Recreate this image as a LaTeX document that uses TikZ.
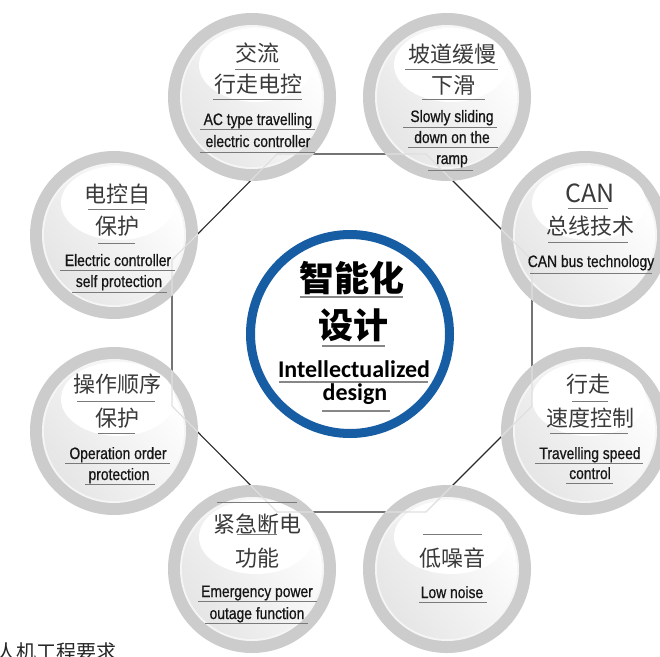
\documentclass[tikz,border=0pt]{standalone}
\usepackage{fontspec}
\usetikzlibrary{calc}
\newfontfamily\cjk{Noto Sans CJK SC}
\newfontfamily\narrow[FakeStretch=0.84,FakeBold=0.7]{Liberation Sans}
\newfontfamily\carl{Carlito}
\definecolor{txtgray}{HTML}{3A3A3A}
\definecolor{engtxt}{HTML}{161616}
\definecolor{ulgray}{HTML}{7A7A7A}
\definecolor{octdark}{HTML}{2B2B2B}
\definecolor{blueR}{HTML}{175DA3}
\tikzset{
  cn/.style={font=\cjk\fontsize{22}{22}\selectfont, text=txtgray, inner sep=0pt, anchor=base},
  cnbig/.style={font=\cjk\fontsize{25}{25}\selectfont, text=txtgray, inner sep=0pt, anchor=base},
  en/.style={font=\narrow\fontsize{16.5}{16.5}\selectfont, text=engtxt, inner sep=0pt, anchor=base},
  cnb/.style={font=\cjk\bfseries\fontsize{35}{35}\selectfont, text=black, inner sep=0pt, anchor=base},
  enb/.style={font=\carl\bfseries\fontsize{24}{24}\selectfont, text=black, inner sep=0pt, anchor=base},
  ul/.style={draw=ulgray, line width=0.9pt},
  ulc/.style={draw=ulgray!90, line width=1.2pt},
  octline/.style={draw=octdark, line width=1.1pt},
  octlight/.style={draw=gray!25, line width=1.1pt},
  bubble/.pic={
    \fill[gray!40] (0,0) circle (84);
    \fill[gray!8] (0,0) circle (72);
    \shade[top color=white, bottom color=gray!20, shading angle=-55] (0,0) circle (70);
    \fill[white] (4,-32) ellipse (57 and 37);
  }
}
\begin{document}
\begin{tikzpicture}[x=1pt,y=-1pt]
\useasboundingbox (0,0) rectangle (660,656);
\clip (0,0) rectangle (660,656);
\fill[white] (0,0) rectangle (660,656);

% circle centres
\coordinate (cA) at (252,97);
\coordinate (cB) at (447,97);
\coordinate (cC) at (585,235);
\coordinate (cD) at (114,235);
\coordinate (cE) at (114,431);
\coordinate (cF) at (585,431);
\coordinate (cG) at (252,569);
\coordinate (cH) at (447,569);
\coordinate (cO) at (350,334);

% octagon
\coordinate (o1) at (277,154);
\coordinate (o2) at (426,154);
\coordinate (o3) at (532,260);
\coordinate (o4) at (532,406);
\coordinate (o5) at (426,512);
\coordinate (o6) at (277,512);
\coordinate (o7) at (172,406);
\coordinate (o8) at (172,260);
\draw[octline] (o1) -- (o2) -- (o3) -- (o4) -- (o5) -- (o6) -- (o7) -- (o8) -- cycle;

% bubbles
\foreach \c in {cA,cB,cC,cD,cE,cF,cG,cH} { \pic at (\c) {bubble}; }

\begin{scope}
  \clip (cA) circle (84) (cB) circle (84) (cC) circle (84) (cD) circle (84)
        (cE) circle (84) (cF) circle (84) (cG) circle (84) (cH) circle (84);
  \draw[octlight] (o1) -- (o2) -- (o3) -- (o4) -- (o5) -- (o6) -- (o7) -- (o8) -- cycle;
\end{scope}

% centre ring
\draw[blueR, line width=9pt] (cO) circle (99.5);

% centre texts
\node[cnb] (m1) at (352,291) {智能化};
\draw[ulc] (300,297) -- (403,297);
\node[cnb] (m2) at (353,338) {设计};
\draw[ulc] (322,346) -- (385,346);
\node[enb] (m3) at (354,377) {Intellectualized};
\draw[ulc] (279,382) -- (428,382);
\node[enb] (m4) at (355,400) {design};
\draw[ulc] (322,411) -- (390,411);

% A
\node[cn] (a1) at (257,61) {交流};
\draw[ul] (235,69) -- (280,69);
\node[cn] (a2) at (258,92) {行走电控};
\draw[ul] (213,99) -- (302,99);
\node[en] (a3) at (258,125) {AC type travelling};
\draw[ul] (200,129) -- (315,129);
\node[en] (a4) at (258,147) {electric controller};
\draw[ul] (200,152) -- (315,152);

% B
\node[cn] (b1) at (452,62) {坡道缓慢};
\draw[ul] (405,69) -- (498,69);
\node[cn] (b2) at (453,93) {下滑};
\draw[ul] (422,99) -- (485,99);
\node[en] (b3) at (452,122) {Slowly sliding};
\draw[ul] (403,127) -- (497,127);
\node[en] (b4) at (452,143) {down on the};
\draw[ul] (408,147) -- (498,147);
\node[en] (b5) at (452,164) {ramp};
\draw[ul] (428,170) -- (473,170);

% C
\node[cnbig] (c1) at (590,202) {CAN};
\draw[ul] (568,208) -- (608,208);
\node[cn] (c2) at (590,234) {总线技术};
\draw[ul] (548,242) -- (628,242);
\node[en] (c3) at (591,267) {CAN bus technology};
\draw[ul] (530,273) -- (652,273);

% D
\node[cn] (d1) at (117,202) {电控自};
\draw[ul] (88,209) -- (145,209);
\node[cn] (d2) at (117,234) {保护};
\draw[ul] (98,243) -- (135,243);
\node[en] (d3) at (118,266) {Electric controller};
\draw[ul] (60,270) -- (175,270);
\node[en] (d4) at (119,287) {self protection};
\draw[ul] (72,292) -- (167,292);

% E
\node[cn] (e1) at (117,392) {操作顺序};
\draw[ul] (77,401) -- (155,401);
\node[cn] (e2) at (117,426) {保护};
\draw[ul] (98,433) -- (135,433);
\node[en] (e3) at (118,459) {Operation order};
\draw[ul] (65,463) -- (170,463);
\node[en] (e4) at (119,480) {protection};
\draw[ul] (85,484) -- (155,484);

% F
\node[cn] (f1) at (588,392) {行走};
\draw[ul] (572,401) -- (608,401);
\node[cn] (f2) at (590,426) {速度控制};
\draw[ul] (550,433) -- (628,433);
\node[en] (f3) at (590,459) {Travelling speed};
\draw[ul] (535,463) -- (643,463);
\node[en] (f4) at (590,479) {control};
\draw[ul] (566,483) -- (613,483);

% G
\draw[ul] (217,502) -- (297,502);
\node[cn] (g1) at (257,532) {紧急断电};
\draw[ul] (237,534) -- (277,534);
\node[cn] (g2) at (257,566) {功能};
\node[en] (g3) at (257,597) {Emergency power};
\draw[ul] (198,601) -- (317,601);
\node[en] (g4) at (257,619) {outage function};
\draw[ul] (205,623) -- (308,623);

% H
\draw[ul] (423,534) -- (482,534);
\node[cn] (h1) at (452,566) {低噪音};
\node[en] (h2) at (452,598) {Low noise};
\draw[ul] (419,602) -- (487,602);

% bottom caption (cropped at the lower edge, as in the reference)
\node[font=\cjk\fontsize{20}{20}\selectfont, text=black!85, inner sep=0pt, anchor=base west] (cap) at (-4,659) {人机工程要求};
\end{tikzpicture}
\end{document}
